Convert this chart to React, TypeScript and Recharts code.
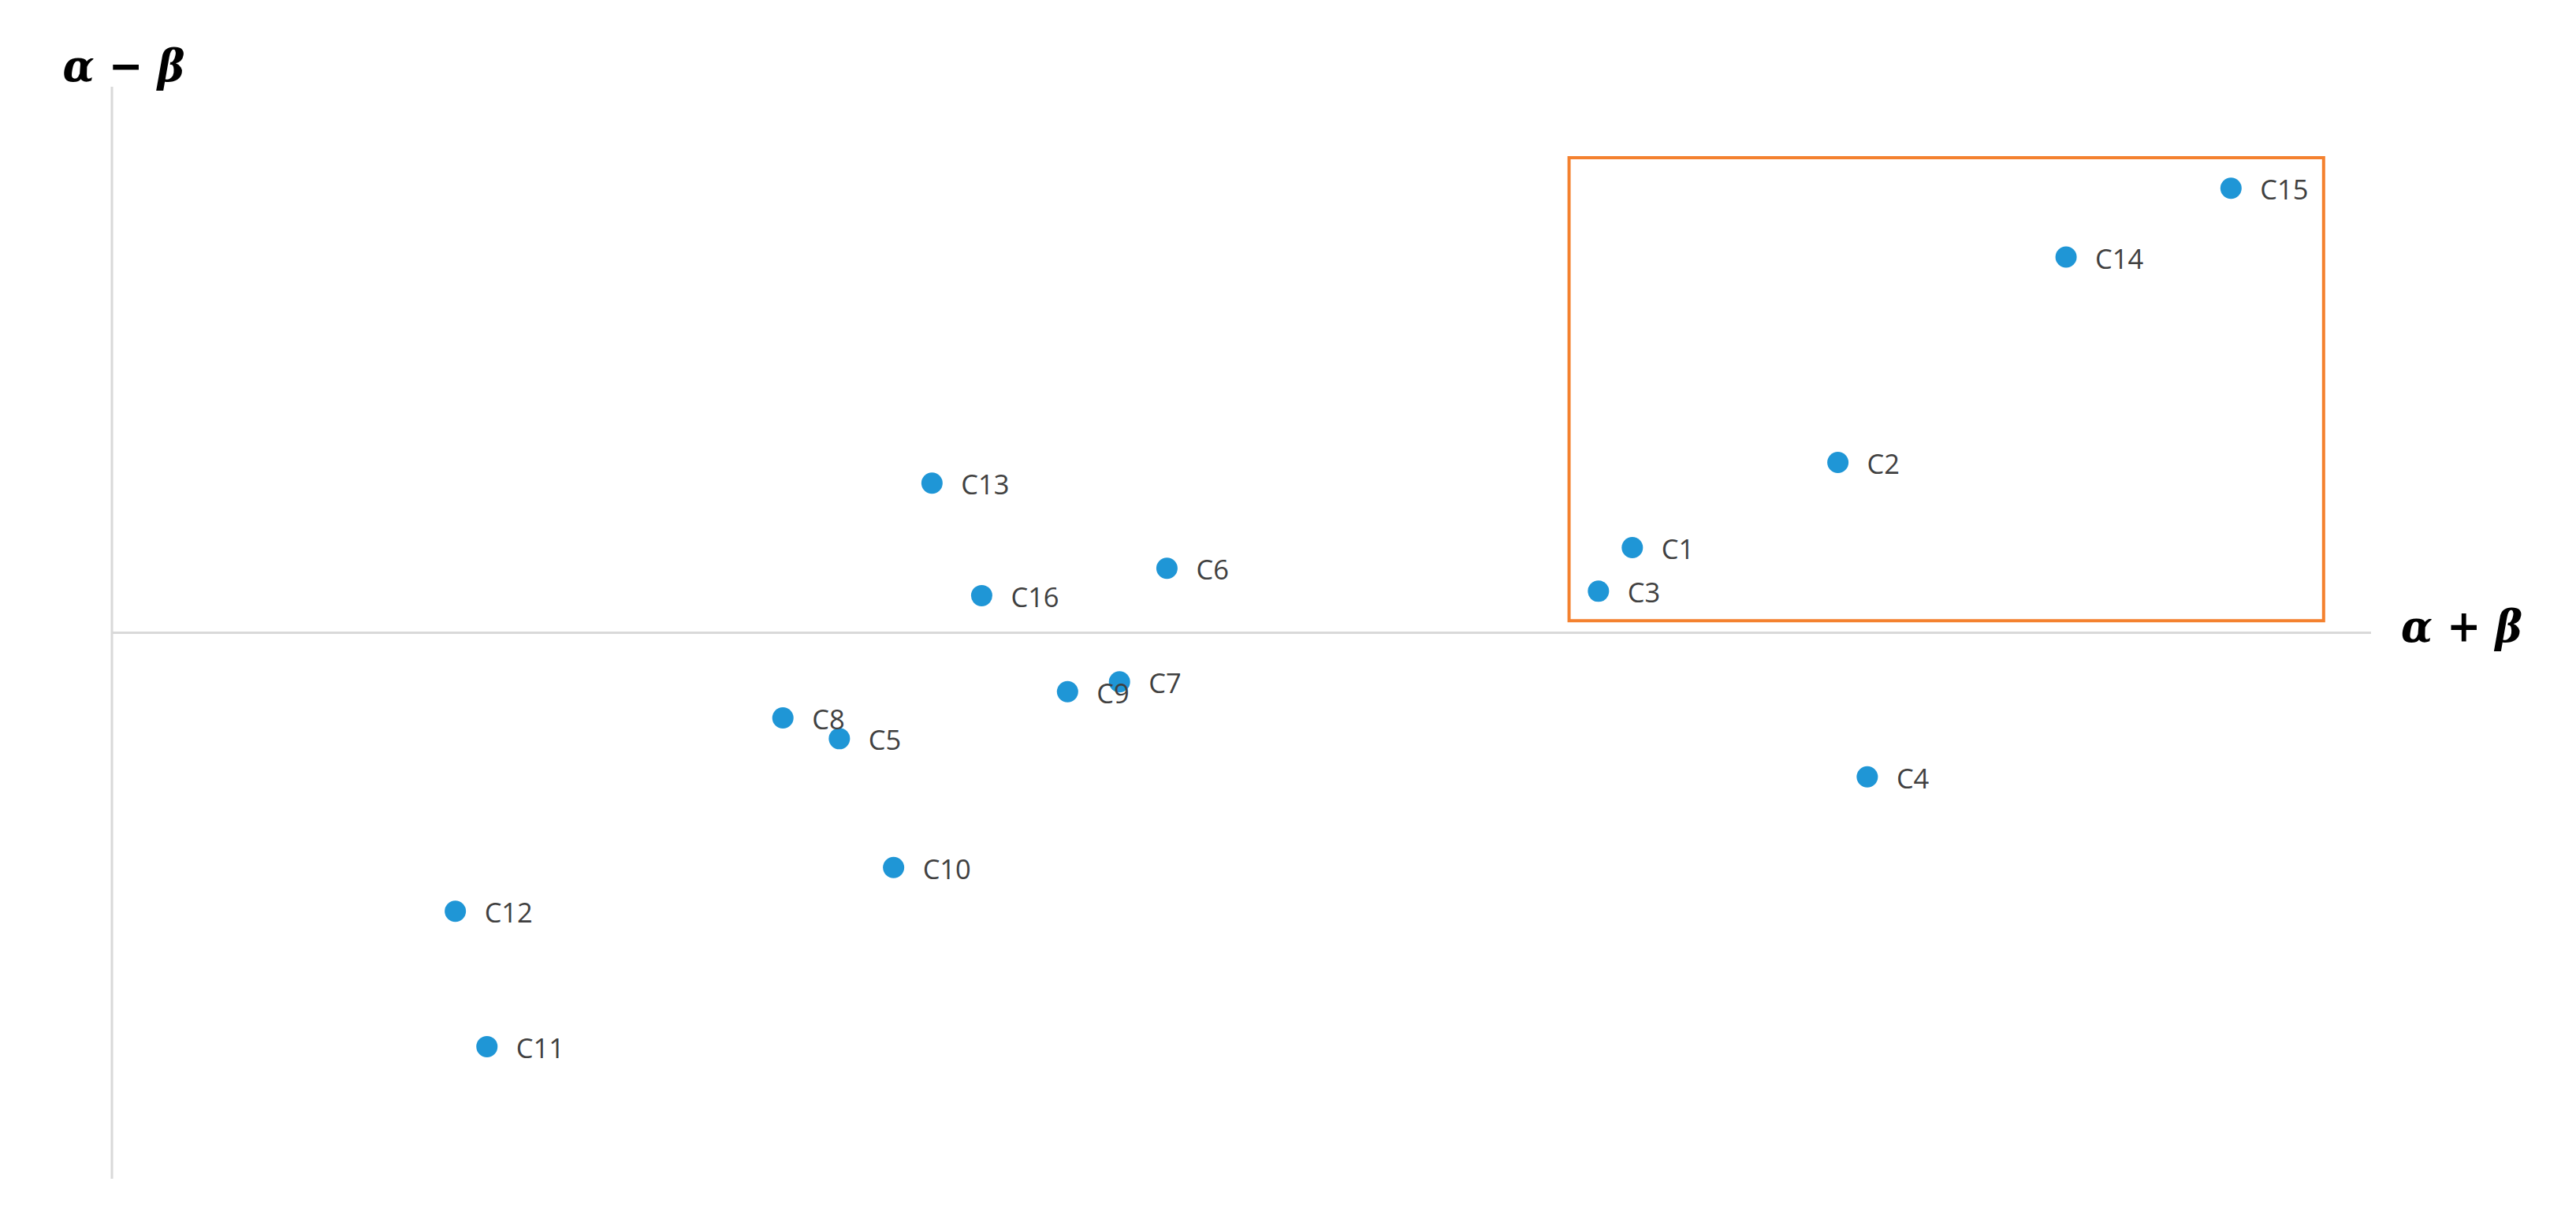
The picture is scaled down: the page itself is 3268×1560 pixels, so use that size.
import React from "react";
import {
  ScatterChart,
  Scatter,
  XAxis,
  YAxis,
  ReferenceLine,
  ReferenceArea,
} from "recharts";

// ---- data ----
const names = [
  "C1", "C2", "C3", "C4", "C5", "C6", "C7", "C8",
  "C9", "C10", "C11", "C12", "C13", "C14", "C15", "C16",
];
const sumValues = [
  6.73, 7.64, 6.58, 7.77, 3.22, 4.67, 4.46, 2.97,
  4.23, 3.46, 1.66, 1.52, 3.63, 8.65, 9.38, 3.85,
];
const diffValues = [
  0.78, 1.56, 0.38, -1.32, -0.97, 0.59, -0.45, -0.78,
  -0.54, -2.15, -3.79, -2.55, 1.37, 3.44, 4.07, 0.34,
];
const xDomain = [0, 10];
const yDomain = [-5, 5];
// highlighted region [x1, x2, y1, y2]
const highlightBox = [6.45, 9.79, 0.11, 4.35];
const xAxisTitle = "α + β";
const yAxisTitle = "α − β";

const data = names.map((name, i) => ({
  name,
  x: sumValues[i],
  y: diffValues[i],
}));

const AXIS_COLOR = "#d9d9d9";
const DOT_COLOR = "#1f96d6";
const LABEL_COLOR = "#404040";
const BOX_COLOR = "#f4812f";

const PointShape = (props: any) => {
  const { cx, cy, payload } = props;
  if (cx == null || cy == null) return null;
  return (
    <g>
      <circle cx={cx} cy={cy} r={13.5} fill={DOT_COLOR} />
      <text
        x={cx + 37}
        y={cy + 1}
        dominantBaseline="central"
        fontFamily="'Open Sans', sans-serif"
        fontSize={34.5}
        fill={LABEL_COLOR}
      >
        {payload.name}
      </text>
    </g>
  );
};

const titleStyle = {
  fontFamily: "'DejaVu Serif', serif",
  fontWeight: 700,
  fontStyle: "italic" as const,
  fontSize: 56,
  fill: "#000",
};

const XTitle = (props: any) => {
  const vb = props.viewBox || {};
  const right = Math.max(vb.x, vb.x + (vb.width || 0));
  const y = vb.y;
  return (
    <text
      x={right + 115}
      y={y + 11}
      textAnchor="middle"
      textLength={154}
      lengthAdjust="spacingAndGlyphs"
      style={titleStyle}
    >
      {xAxisTitle}
    </text>
  );
};

const YTitle = (props: any) => {
  const vb = props.viewBox || {};
  const top = Math.min(vb.y, vb.y + (vb.height || 0));
  return (
    <text
      x={vb.x + 15}
      y={top - 7}
      textAnchor="middle"
      textLength={155}
      lengthAdjust="spacingAndGlyphs"
      style={titleStyle}
    >
      {yAxisTitle}
    </text>
  );
};

export default function App() {
  return (
    <div style={{ width: 3260, height: 1552, background: "#fff" }}>
      <ScatterChart
        width={3260}
        height={1552}
        margin={{ top: 102, right: 260, bottom: 65, left: 134 }}
      >
        <XAxis type="number" dataKey="x" domain={xDomain} hide />
        <YAxis type="number" dataKey="y" domain={yDomain} hide />
        <ReferenceLine
          y={0}
          stroke={AXIS_COLOR}
          strokeWidth={3}
          label={<XTitle />}
        />
        <ReferenceLine
          x={0}
          stroke={AXIS_COLOR}
          strokeWidth={3}
          label={<YTitle />}
        />
        <ReferenceArea
          x1={highlightBox[0]}
          x2={highlightBox[1]}
          y1={highlightBox[2]}
          y2={highlightBox[3]}
          fill="none"
          fillOpacity={0}
          stroke={BOX_COLOR}
          strokeWidth={4}
        />
        <Scatter
          data={data}
          dataKey="y"
          shape={<PointShape />}
          isAnimationActive={false}
        />
      </ScatterChart>
    </div>
  );
}
